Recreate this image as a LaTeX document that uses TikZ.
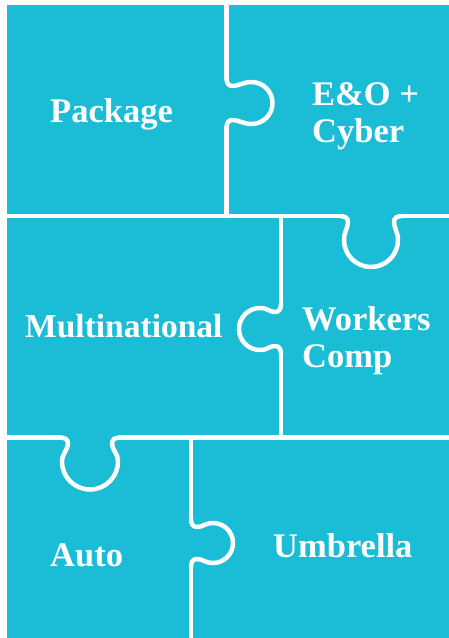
\documentclass[tikz,border=0pt]{standalone}
\usepackage{fontspec}
\setmainfont{Liberation Serif}
\definecolor{puzzle}{RGB}{27,188,214}
\newcommand\knob[3]{% #1 neck half width, #2 bulb radius, #3 depth
  ({-#1-8},0) .. controls ({-#1-3},0) and ({-#1},2) .. ({-#1},6)
  .. controls ({-#1},12) and ({-#2},{#3-#2-8}) .. ({-#2},{#3-#2})
  .. controls ({-#2},{#3-#2+0.5523*#2}) and ({-0.5523*#2},#3) .. (0,#3)
  .. controls ({0.5523*#2},#3) and ({#2},{#3-#2+0.5523*#2}) .. ({#2},{#3-#2})
  .. controls ({#2},{#3-#2-8}) and ({#1},12) .. ({#1},6)
  .. controls ({#1},2) and ({#1+3},0) .. ({#1+8},0)}
\tikzset{
  cut/.style={draw=white, line width=4.5pt, line cap=round, line join=round},
  label/.style={text=white, font=\bfseries\fontsize{34.5}{37}\selectfont, inner sep=0pt, anchor=base west, align=left},
  smalllabel/.style={label, font=\bfseries\fontsize{33.5}{37}\selectfont}
}
\begin{document}
\begin{tikzpicture}[x=1pt,y=-1pt]
\useasboundingbox (0,0) rectangle (449,638);
\fill[puzzle] (7,5) rectangle (449,638);
% first vertical cut with knob to the right
\draw[cut] (226.5,4) -- (226.5,78);
\draw[cut] (226.5,128) -- (226.5,216);
\begin{scope}[shift={(226.5,103)},rotate=90]
  \draw[cut] \knob{17}{21}{46};
\end{scope}
% first horizontal cut with knob downward
\draw[cut] (7,216) -- (340,216);
\draw[cut] (402,216) -- (450,216);
\begin{scope}[shift={(371,216)}]
  \draw[cut] \knob{23}{27}{51};
\end{scope}
% second vertical cut with knob to the left
\draw[cut] (281,216) -- (281,304);
\draw[cut] (281,354) -- (281,437.5);
\begin{scope}[shift={(281,329)},rotate=-90]
  \draw[cut] \knob{17}{21}{42};
\end{scope}
% second horizontal cut with knob downward
\draw[cut] (7,437.5) -- (60,437.5);
\draw[cut] (120,437.5) -- (450,437.5);
\begin{scope}[shift={(90,437.5)}]
  \draw[cut] \knob{22}{28}{52};
\end{scope}
% third vertical cut with knob to the right
\draw[cut] (191,437.5) -- (191,519);
\draw[cut] (191,567) -- (191,640);
\begin{scope}[shift={(191,543)},rotate=90]
  \draw[cut] \knob{16}{20}{42};
\end{scope}
% labels (base anchor = baseline of the last line)
\node[label] (package) at (50,122) {Package};
\node[label] (eo) at (312,142) {E\&O +\\Cyber};
\node[smalllabel] (multi) at (25,337) {Multinational};
\node[label] (workers) at (302,367) {Workers\\Comp};
\node[label] (auto) at (50,566) {Auto};
\node[label] (umbrella) at (273,557) {Umbrella};
\end{tikzpicture}
\end{document}
